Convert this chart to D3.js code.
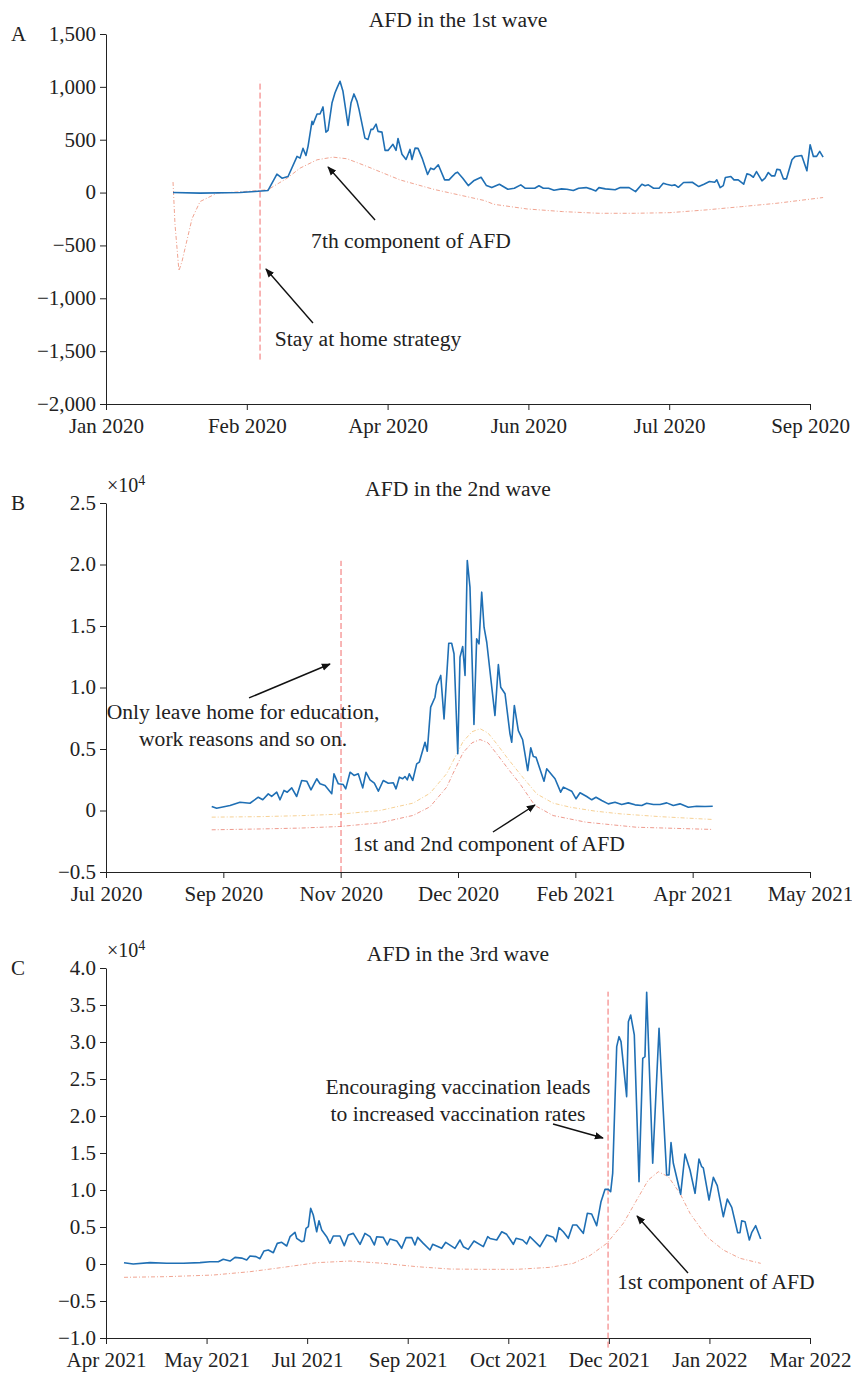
<!DOCTYPE html>
<html>
<head>
<meta charset="utf-8">
<script src="https://cdn.jsdelivr.net/npm/d3@7"></script>
<style>
  body { margin: 0; background: #fff; }
  svg text { font-family: "Liberation Serif", "Times New Roman", serif; fill: #222; }
</style>
</head>
<body>
<svg id="chart" width="852" height="1375"></svg>
<script>
// ---- tick labels (x positions are tick index units) ----
let xLabelsA = ['Jan 2020', 'Feb 2020', 'Apr 2020', 'Jun 2020', 'Jul 2020', 'Sep 2020'];
let xLabelsB = ['Jul 2020', 'Sep 2020', 'Nov 2020', 'Dec 2020', 'Feb 2021', 'Apr 2021', 'May 2021'];
let xLabelsC = ['Apr 2021', 'May 2021', 'Jul 2021', 'Sep 2021', 'Oct 2021', 'Dec 2021', 'Jan 2022', 'Mar 2022'];

let yTicksA = [-2000, -1500, -1000, -500, 0, 500, 1000, 1500];
let yTicksB = [-0.5, 0, 0.5, 1.0, 1.5, 2.0, 2.5];
let yTicksC = [-1.0, -0.5, 0, 0.5, 1.0, 1.5, 2.0, 2.5, 3.0, 3.5, 4.0];

// ---- panel A: AFD 1st wave [position, value] ----
let afdA = [[0.476,0],[0.668,-5],[0.952,0],[1.058,10],[1.151,20],[1.214,174],[1.25,136],[1.293,152],[1.357,342],[1.378,326],
  [1.399,418],[1.42,351],[1.435,437],[1.463,674],[1.47,645],[1.499,743],[1.52,743],[1.541,810],[1.562,572],[1.577,588],
  [1.605,847],[1.626,942],[1.641,990],[1.662,1053],[1.683,958],[1.719,636],[1.74,847],[1.761,933],[1.783,863],[1.797,787],
  [1.839,515],[1.861,503],[1.882,598],[1.896,598],[1.918,648],[1.932,579],[1.96,572],[1.982,399],[2.003,399],[2.038,456],
  [2.06,399],[2.074,512],[2.102,363],[2.131,313],[2.159,408],[2.173,313],[2.195,420],[2.216,418],[2.245,326],[2.284,171],
  [2.306,231],[2.329,218],[2.36,263],[2.405,120],[2.436,120],[2.481,183],[2.497,193],[2.534,136],[2.573,66],[2.611,111],
  [2.664,145],[2.702,66],[2.74,47],[2.794,79],[2.854,31],[2.9,41],[2.946,73],[2.976,41],[3.045,41],[3.075,64],
  [3.106,41],[3.143,41],[3.182,22],[3.235,35],[3.273,32],[3.319,19],[3.357,41],[3.41,47],[3.44,35],[3.479,16],
  [3.501,47],[3.547,35],[3.616,26],[3.653,47],[3.715,47],[3.761,9],[3.806,79],[3.829,64],[3.852,73],[3.889,41],
  [3.928,41],[3.958,88],[3.981,79],[4.019,66],[4.041,73],[4.065,50],[4.102,95],[4.164,98],[4.21,57],[4.247,79],
  [4.286,104],[4.323,98],[4.338,120],[4.362,47],[4.384,66],[4.399,142],[4.438,152],[4.46,120],[4.49,120],[4.529,79],
  [4.552,177],[4.575,168],[4.598,145],[4.62,199],[4.659,111],[4.681,136],[4.704,190],[4.727,158],[4.75,158],[4.765,221],
  [4.787,215],[4.811,130],[4.833,130],[4.872,310],[4.895,342],[4.941,351],[4.978,206],[5.001,453],[5.024,342],[5.047,342],
  [5.069,389],[5.093,335]];

let comp7A = [[0.476,100],[0.49,-300],[0.518,-740],[0.54,-650],[0.611,-247],[0.668,-85],[0.79,-5],[0.902,3],[1.094,20],
  [1.151,28],[1.286,136],[1.378,231],[1.499,310],[1.612,335],[1.712,320],[1.854,247],[2.088,120],[2.329,30],[2.687,-75],
  [2.755,-111],[2.991,-155],[3.243,-180],[3.501,-196],[3.753,-196],[4.004,-190],[4.262,-164],[4.514,-133],[4.765,-101],[5.093,-47]];

// ---- panel B: AFD 2nd wave (x10^4) ----
let afdB = [[0.901,0.033],[0.943,0.019],[1.057,0.04],[1.142,0.067],[1.227,0.059],[1.298,0.108],[1.336,0.087],[1.383,0.135],
  [1.412,0.114],[1.455,0.149],[1.483,0.087],[1.517,0.163],[1.545,0.149],[1.583,0.184],[1.625,0.114],[1.668,0.244],
  [1.711,0.238],[1.747,0.168],[1.796,0.258],[1.824,0.217],[1.867,0.203],[1.924,0.136],[1.943,0.298],[1.98,0.217],
  [2.022,0.211],[2.043,0.176],[2.08,0.311],[2.114,0.285],[2.15,0.298],[2.188,0.184],[2.216,0.311],[2.25,0.249],
  [2.287,0.222],[2.321,0.157],[2.363,0.244],[2.406,0.222],[2.449,0.225],[2.472,0.176],[2.5,0.271],[2.529,0.258],
  [2.548,0.276],[2.568,0.249],[2.585,0.298],[2.614,0.244],[2.648,0.379],[2.67,0.393],[2.719,0.555],[2.738,0.482],
  [2.767,0.84],[2.804,0.921],[2.818,1.016],[2.853,1.098],[2.881,0.745],[2.921,1.36],[2.946,1.36],[2.966,1.274],
  [2.998,0.461],[3.017,1.246],[3.04,1.333],[3.06,1.098],[3.079,2.033],[3.102,1.816],[3.136,0.699],[3.159,1.396],
  [3.179,1.355],[3.202,1.775],[3.222,1.49],[3.245,1.368],[3.315,0.772],[3.344,1.187],[3.364,1.002],[3.401,0.949],
  [3.443,0.623],[3.458,0.555],[3.48,0.854],[3.514,0.65],[3.551,0.575],[3.594,0.325],[3.62,0.51],[3.642,0.439],
  [3.665,0.433],[3.733,0.238],[3.756,0.339],[3.827,0.258],[3.875,0.149],[3.898,0.19],[3.969,0.157],[4.006,0.095],
  [4.04,0.144],[4.097,0.114],[4.14,0.087],[4.176,0.108],[4.225,0.081],[4.281,0.054],[4.338,0.067],[4.395,0.049],
  [4.451,0.062],[4.509,0.046],[4.566,0.041],[4.608,0.059],[4.665,0.049],[4.722,0.049],[4.779,0.062],[4.835,0.041],
  [4.892,0.054],[4.963,0.027],[5.034,0.035],[5.105,0.033],[5.171,0.035]];

let comp2B = [[0.901,-0.054],[1.313,-0.05],[1.653,-0.042],[1.994,-0.03],[2.335,0.0],[2.617,0.06],[2.761,0.14],[2.904,0.3],
  [2.957,0.4],[3.043,0.56],[3.119,0.64],[3.188,0.665],[3.256,0.63],[3.33,0.542],[3.426,0.42],[3.528,0.298],[3.671,0.135],
  [3.81,0.06],[3.955,0.027],[4.168,-0.005],[4.381,-0.027],[4.722,-0.05],[5.171,-0.073]];

let comp1B = [[0.901,-0.157],[1.313,-0.15],[1.653,-0.143],[1.994,-0.13],[2.335,-0.1],[2.617,-0.04],[2.761,0.03],[2.904,0.19],
  [2.957,0.3],[3.043,0.47],[3.119,0.55],[3.188,0.577],[3.256,0.55],[3.33,0.461],[3.426,0.34],[3.528,0.217],[3.655,0.041],
  [3.81,-0.041],[4.09,-0.095],[4.52,-0.136],[5.171,-0.154]];

// ---- panel C: AFD 3rd wave (x10^4) ----
let afdC = [[0.179,0.018],[0.271,0.0],[0.438,0.018],[0.604,0.01],[0.769,0.01],[0.935,0.018],[1.034,0.03],[1.117,0.03],
  [1.166,0.063],[1.233,0.04],[1.283,0.09],[1.349,0.08],[1.399,0.054],[1.432,0.108],[1.492,0.1],[1.531,0.072],[1.571,0.176],
  [1.614,0.189],[1.664,0.153],[1.703,0.279],[1.747,0.293],[1.797,0.243],[1.83,0.369],[1.879,0.428],[1.896,0.347],
  [1.946,0.301],[1.969,0.311],[1.989,0.482],[2.012,0.504],[2.035,0.752],[2.061,0.662],[2.095,0.436],[2.118,0.585],
  [2.145,0.459],[2.194,0.369],[2.227,0.279],[2.26,0.378],[2.327,0.378],[2.369,0.248],[2.409,0.392],[2.459,0.414],
  [2.526,0.266],[2.575,0.414],[2.625,0.369],[2.668,0.257],[2.692,0.369],[2.757,0.36],[2.797,0.257],[2.824,0.338],
  [2.891,0.311],[2.94,0.212],[2.983,0.356],[3.04,0.356],[3.072,0.257],[3.099,0.36],[3.155,0.279],[3.222,0.189],
  [3.248,0.266],[3.338,0.212],[3.378,0.293],[3.47,0.212],[3.52,0.324],[3.553,0.234],[3.602,0.198],[3.659,0.311],
  [3.752,0.234],[3.795,0.369],[3.818,0.345],[3.885,0.324],[3.935,0.436],[3.984,0.401],[4.05,0.266],[4.077,0.347],
  [4.143,0.324],[4.183,0.27],[4.216,0.369],[4.315,0.234],[4.382,0.392],[4.448,0.36],[4.474,0.301],[4.504,0.491],
  [4.547,0.436],[4.597,0.347],[4.641,0.527],[4.68,0.527],[4.746,0.414],[4.786,0.685],[4.829,0.676],[4.879,0.518],
  [4.922,0.842],[4.962,1.009],[4.995,1.009],[5.018,0.977],[5.038,1.225],[5.061,2.216],[5.078,2.937],[5.101,3.072],
  [5.121,3.005],[5.177,2.261],[5.194,3.275],[5.217,3.365],[5.253,3.095],[5.3,1.113],[5.337,2.78],[5.359,2.802],
  [5.376,3.671],[5.436,1.361],[5.499,3.185],[5.535,2.216],[5.575,1.203],[5.598,1.203],[5.618,1.64],[5.641,1.361],
  [5.714,0.942],[5.757,1.486],[5.807,1.27],[5.857,0.955],[5.896,1.419],[5.923,1.315],[5.939,1.3],[5.996,0.865],
  [6.039,1.171],[6.078,1.058],[6.138,0.639],[6.178,0.878],[6.222,0.766],[6.281,0.423],[6.304,0.423],[6.321,0.585],
  [6.354,0.572],[6.397,0.324],[6.42,0.423],[6.46,0.518],[6.51,0.338]];

let comp1C = [[0.179,-0.18],[0.604,-0.171],[1.067,-0.149],[1.432,-0.104],[1.763,-0.045],[2.095,0.018],[2.426,0.04],
  [2.757,0.009],[3.089,-0.036],[3.42,-0.068],[3.752,-0.072],[4.084,-0.072],[4.415,-0.045],[4.647,0.009],[4.813,0.115],
  [4.979,0.279],[5.144,0.55],[5.277,0.865],[5.392,1.135],[5.492,1.247],[5.591,1.18],[5.707,0.955],[5.807,0.685],
  [5.973,0.369],[6.138,0.189],[6.304,0.077],[6.51,0.009]];

// policy dates: [position, lowValue, highValue]
let policyA = [1.094, -1580, 1060];
let policyB = [2.003, -0.5, 2.03];
let policyC = [4.992, -1.13, 3.68];

// annotations: text lines [pos, value, text], arrows [tailPos, tailVal, headPos, headVal]
let notesA = [[2.166, -524, '7th component of AFD'], [1.861, -1451, 'Stay at home strategy']];
let arrowsA = [[1.911, -259, 1.577, 242], [1.47, -1233, 1.136, -723]];
let notesB = [[1.168, 0.744, 'Only leave home for education,'], [1.168, 0.524, 'work reasons and so on.'],
  [3.264, -0.329, '1st and 2nd component of AFD']];
let arrowsB = [[1.219, 0.915, 1.909, 1.191], [3.298, -0.175, 3.656, 0.045]];
let notesC = [[3.5, 2.297, 'Encouraging vaccination leads'], [3.5, 1.932, 'to increased vaccination rates'],
  [6.065, -0.338, '1st component of AFD']];
let arrowsC = [[4.445, 1.892, 4.942, 1.703], [5.787, -0.122, 5.28, 0.649]];

let svg = d3.select('#chart');
let left = 106, right = 810;
let tickFont = 21;
let textFont = 21.6;

// arrow head marker
svg.append('defs').append('marker')
  .attr('id', 'head')
  .attr('viewBox', '0 0 10 10')
  .attr('refX', 9).attr('refY', 5)
  .attr('markerWidth', 9).attr('markerHeight', 9)
  .attr('markerUnits', 'userSpaceOnUse')
  .attr('orient', 'auto')
  .append('path').attr('d', 'M0,1 L10,5 L0,9 z').attr('fill', '#111');

let drawPanel = (p) => {
  let g = svg.append('g');
  let x = d3.scaleLinear().domain([0, p.xLabels.length - 1]).range([left, right]);
  let y = d3.scaleLinear().domain(p.yDomain).range([p.bottom, p.top]);

  // axes
  let xAxis = d3.axisBottom(x)
    .tickValues(d3.range(p.xLabels.length))
    .tickFormat((i) => p.xLabels[i])
    .tickSizeInner(6).tickSizeOuter(0).tickPadding(8);
  let yAxis = d3.axisLeft(y)
    .tickValues(p.yTicks)
    .tickFormat(p.yFormat)
    .tickSizeInner(6).tickSizeOuter(0).tickPadding(4);

  let gx = g.append('g').attr('transform', 'translate(0,' + p.bottom + ')').call(xAxis);
  let gy = g.append('g').attr('transform', 'translate(' + left + ',0)').call(yAxis);
  [gx, gy].forEach((a) => {
    a.selectAll('text').style('font-size', tickFont + 'px').style('font-family', '"Liberation Serif", serif').attr('fill', '#222');
    a.selectAll('line, path').attr('stroke', '#222');
  });
  // keep the lowest y label clear of the first x label
  gy.selectAll('text').attr('dy', '0.30em');

  // component curves
  p.comps.forEach((c) => {
    g.append('path')
      .datum(c.data)
      .attr('fill', 'none')
      .attr('stroke', c.color)
      .attr('stroke-width', 0.9)
      .attr('stroke-dasharray', '4,2,1,2')
      .attr('d', d3.line().x((d) => x(d[0])).y((d) => y(d[1])));
  });

  // policy marker
  g.append('line')
    .attr('x1', x(p.policy[0])).attr('x2', x(p.policy[0]))
    .attr('y1', y(p.policy[1])).attr('y2', y(p.policy[2]))
    .attr('stroke', '#f26d6d').attr('stroke-width', 1)
    .attr('stroke-dasharray', '6,3');

  // AFD series
  g.append('path')
    .datum(p.afd)
    .attr('fill', 'none')
    .attr('stroke', '#1f6fb4')
    .attr('stroke-width', 1.6)
    .attr('stroke-linejoin', 'round')
    .attr('d', d3.line().x((d) => x(d[0])).y((d) => y(d[1])));

  // annotations
  p.arrows.forEach((a) => {
    g.append('line')
      .attr('x1', x(a[0])).attr('y1', y(a[1]))
      .attr('x2', x(a[2])).attr('y2', y(a[3]))
      .attr('stroke', '#111').attr('stroke-width', 1.4)
      .attr('marker-end', 'url(#head)');
  });
  p.notes.forEach((n) => {
    g.append('text')
      .attr('x', x(n[0])).attr('y', y(n[1]))
      .attr('text-anchor', 'middle')
      .style('font-size', textFont + 'px')
      .text(n[2]);
  });

  // title and panel letter
  g.append('text')
    .attr('x', 458).attr('y', p.top - 7)
    .attr('text-anchor', 'middle')
    .style('font-size', textFont + 'px')
    .text(p.title);
  g.append('text')
    .attr('x', 11).attr('y', p.top + 7)
    .style('font-size', tickFont + 'px')
    .text(p.letter);

  if (p.scaleNote) {
    let t = g.append('text').attr('x', 107).attr('y', p.top - 11).style('font-size', '20px');
    t.append('tspan').text('\u00d710');
    t.append('tspan').attr('dy', -7).style('font-size', '14px').text('4');
  }
};

let minus = (s) => s.replace('-', '\u2212');
let fmtA = (d) => minus(d3.format(',')(d));
let fmtX = (d) => d === 0 ? '0' : minus(d3.format('.1f')(d));

drawPanel({
  letter: 'A', title: 'AFD in the 1st wave', top: 34, bottom: 404,
  xLabels: xLabelsA, yTicks: yTicksA, yDomain: [-2000, 1500], yFormat: fmtA,
  afd: afdA, comps: [{ data: comp7A, color: '#ee9a84' }],
  policy: policyA, notes: notesA, arrows: arrowsA
});
drawPanel({
  letter: 'B', title: 'AFD in the 2nd wave', top: 503, bottom: 872,
  xLabels: xLabelsB, yTicks: yTicksB, yDomain: [-0.5, 2.5], yFormat: fmtX,
  afd: afdB, comps: [{ data: comp2B, color: '#f5cb88' }, { data: comp1B, color: '#ec8f80' }],
  policy: policyB, notes: notesB, arrows: arrowsB, scaleNote: true
});
drawPanel({
  letter: 'C', title: 'AFD in the 3rd wave', top: 968, bottom: 1338,
  xLabels: xLabelsC, yTicks: yTicksC, yDomain: [-1, 4], yFormat: fmtX,
  afd: afdC, comps: [{ data: comp1C, color: '#ee9a84' }],
  policy: policyC, notes: notesC, arrows: arrowsC, scaleNote: true
});
</script>
</body>
</html>
